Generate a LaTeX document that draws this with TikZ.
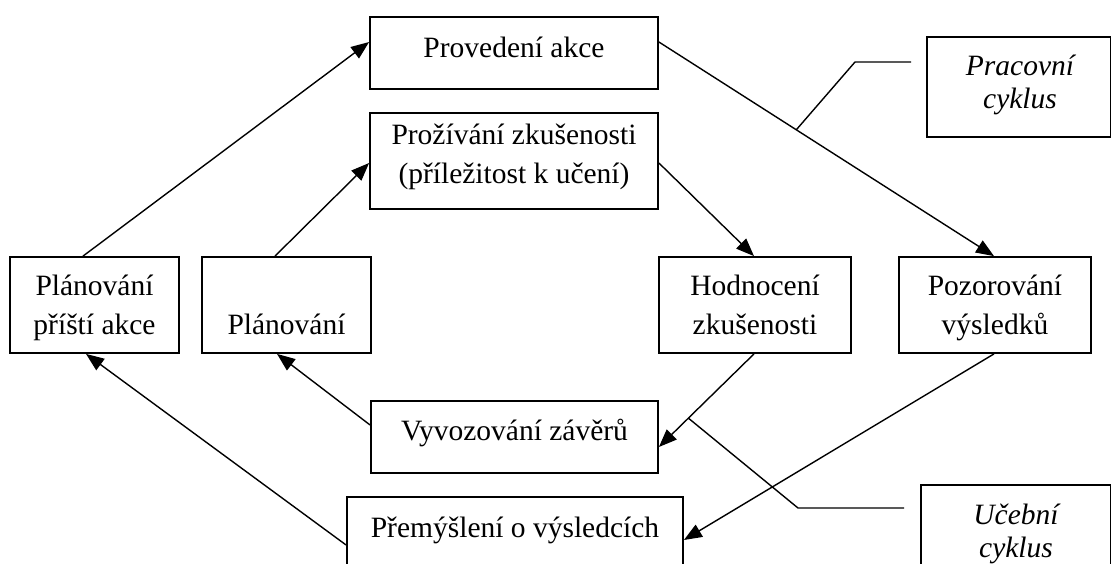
\documentclass[tikz,border=0pt]{standalone}
\usepackage{fontspec}
\setmainfont{Liberation Serif}
\usetikzlibrary{arrows.meta,calc}
\begin{document}
\begin{tikzpicture}[x=1pt,y=-1pt,
  box/.style={draw,line width=1.8pt,inner sep=0pt},
  txt/.style={font=\fontsize{29.5}{39}\selectfont,align=center,inner sep=0pt,anchor=base},
  itxt/.style={font=\fontsize{29.5}{33}\selectfont\itshape,align=center,inner sep=0pt,anchor=base},
  flow/.style={line width=1.4pt,-{Triangle[length=18pt,width=14pt]}},
  leader/.style={line width=1.4pt}]
\useasboundingbox (0,0) rectangle (1112,563);
\clip (0,0) rectangle (1112,563);

% boxes
\node[box,minimum width=288pt,minimum height=72pt] (act)   at (514,53) {};
\node[box,minimum width=288pt,minimum height=96pt] (exp)   at (514,161) {};
\node[box,minimum width=169pt,minimum height=96pt] (pa)    at (94.5,305) {};
\node[box,minimum width=169pt,minimum height=96pt] (plan)  at (286.5,305) {};
\node[box,minimum width=192pt,minimum height=96pt] (eval)  at (755,305) {};
\node[box,minimum width=192pt,minimum height=96pt] (obs)   at (995,305) {};
\node[box,minimum width=287pt,minimum height=72pt] (concl) at (514.5,437) {};
\node[box,minimum width=336pt,minimum height=93pt] (refl)  at (515,543.5) {};
\node[box,minimum width=183.5pt,minimum height=100pt] (work) at (1018.75,87) {};
\node[box,minimum width=189.5pt,minimum height=115pt] (learn) at (1015.75,542.5) {};

% texts (base anchor sits on the last line)
\node[txt] (actT)   at (514,57)    {Provedení akce};
\node[txt] (expT)   at (514,183)   {Prožívání zkušenosti\\(příležitost k učení)};
\node[txt] (paT)    at (94.5,334)  {Plánování\\příští akce};
\node[txt] (planT)  at (286.5,334) {Plánování};
\node[txt] (evalT)  at (755,334)   {Hodnocení\\zkušenosti};
\node[txt] (obsT)   at (995,334)   {Pozorování\\výsledků};
\node[txt] (conclT) at (514.5,440) {Vyvozování závěrů};
\node[txt] (reflT)  at (515,537)   {Přemýšlení o výsledcích};
\node[itxt] (workT) at (1020,108)  {Pracovní\\cyklus};
\node[itxt] (learnT) at (1016,557) {Učební\\cyklus};

% cycle arrows
\draw[flow] ([xshift=-11.5pt]pa.north) -- ([yshift=11pt]act.west);
\draw[flow] ([xshift=-11.5pt]plan.north) -- ([yshift=-2pt]exp.west);
\draw[flow] ([yshift=11pt]act.east) -- ([xshift=-1pt]obs.north);
\draw[flow] ([yshift=-2pt]exp.east) -- ([xshift=-1pt]eval.north);
\draw[flow] ([xshift=-1pt]eval.south) -- ([yshift=-10pt]concl.east);
\draw[flow] ([xshift=-1pt]obs.south) -- ([yshift=3.5pt]refl.east);
\draw[flow] ([yshift=12pt]concl.west) -- ([xshift=-9.5pt]plan.south);
\draw[flow] ([yshift=-1.5pt]refl.west) -- ([xshift=-8.5pt]pa.south);

% callout leaders
\coordinate (wA) at ($([yshift=11pt]act.east)!0.41!([xshift=-1pt]obs.north)$);
\coordinate (wB) at (855,62);
\coordinate (wC) at (911,62);
\draw[leader] (wA) -- (wB) -- (wC);
\coordinate (lA) at ($([xshift=-1pt]eval.south)!0.69!([yshift=-10pt]concl.east)$);
\coordinate (lB) at (798,508);
\coordinate (lC) at (904,508);
\draw[leader] (lA) -- (lB) -- (lC);
\end{tikzpicture}
\end{document}
